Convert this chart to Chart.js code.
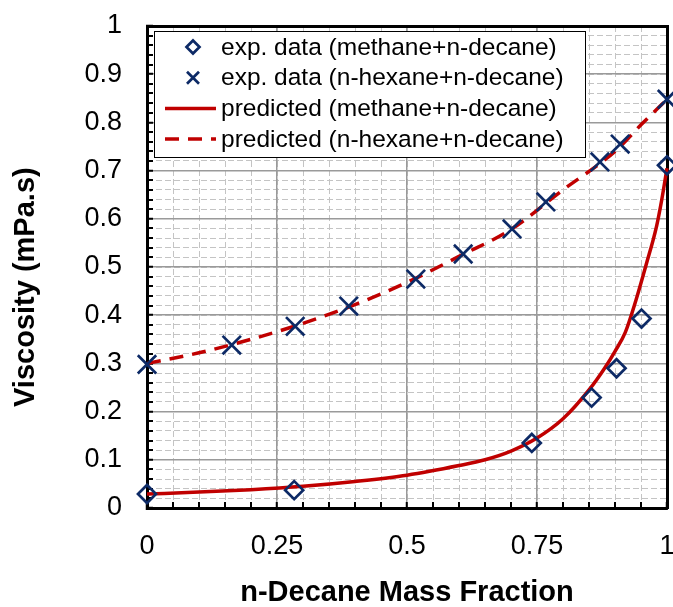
<html>
<head>
  <script src="https://cdn.jsdelivr.net/npm/chart.js@4.4.0/dist/chart.umd.min.js"></script>
</head>

<body style="padding: 0; margin: 0; background: #fff;">

<div style="width: 673px; height: 607px;">
  <canvas id="chart"></canvas>
</div>

<script>
  const seriesLabels = [
    'exp. data (methane+n-decane)',
    'exp. data (n-hexane+n-decane)',
    'predicted (methane+n-decane)',
    'predicted (n-hexane+n-decane)',
  ]

  // experimental points
  const methaneExpX = [0, 0.283, 0.74, 0.855, 0.903, 0.951, 1.0]
  const methaneExpY = [0.029, 0.037, 0.135, 0.229, 0.29, 0.393, 0.711]
  const hexaneExpX = [0, 0.163, 0.285, 0.388, 0.517, 0.608, 0.702, 0.767, 0.871, 0.91, 1.0]
  const hexaneExpY = [0.298, 0.338, 0.377, 0.419, 0.475, 0.527, 0.579, 0.635, 0.718, 0.755, 0.848]

  // predicted curves
  const methanePredX = [0, 0.1, 0.2, 0.3, 0.4, 0.5, 0.6, 0.65, 0.7, 0.75, 0.8, 0.85, 0.88, 0.9, 0.92, 0.94, 0.96, 0.98, 0.99, 1.0]
  const methanePredY = [0.029, 0.033, 0.038, 0.045, 0.055, 0.068, 0.088, 0.1, 0.118, 0.145, 0.185, 0.245, 0.29, 0.325, 0.365, 0.43, 0.505, 0.585, 0.64, 0.705]
  const hexanePredX = [0, 0.1, 0.2, 0.3, 0.4, 0.5, 0.6, 0.7, 0.8, 0.9, 0.95, 1.0]
  const hexanePredY = [0.3, 0.322, 0.35, 0.383, 0.422, 0.468, 0.522, 0.578, 0.66, 0.74, 0.795, 0.848]

  const xTickLabels = ['0', '0.25', '0.5', '0.75', '1']
  const yTickLabels = ['0', '0.1', '0.2', '0.3', '0.4', '0.5', '0.6', '0.7', '0.8', '0.9', '1']

  const navy = '#0d2a66'
  const red = '#c00000'

  const pts = (xs, ys) => xs.map((x, i) => ({x, y: ys[i]}))
  const isMajor = (v, step) => Math.abs(v / step - Math.round(v / step)) < 1e-6
  const noSize = s => { s.width = s.isHorizontal() ? s.width : 0; s.height = s.isHorizontal() ? 0 : s.height; s.paddingLeft = s.paddingRight = s.paddingTop = s.paddingBottom = 0 }

  // legend drawn as an Excel style box inside the plot area
  const legendBox = {
    id: 'legendBox',
    afterDatasetsDraw(chart) {
      const {ctx, chartArea} = chart
      const left = chartArea.left + 7, top = chartArea.top + 5, w = 431, h = 126
      ctx.save()
      ctx.fillStyle = '#fff'
      ctx.fillRect(left, top, w, h)
      ctx.strokeStyle = '#000'
      ctx.lineWidth = 1
      ctx.strokeRect(left + 0.5, top + 0.5, w, h)
      chart.data.datasets.forEach((ds, i) => {
        const y = top + 16 + i * 30.7
        const cx = left + 39
        ctx.setLineDash([])
        ctx.strokeStyle = ds.borderColor
        ctx.lineWidth = ds.borderWidth
        ctx.beginPath()
        if (ds.showLine) {
          ctx.setLineDash(ds.borderDash || [])
          ctx.moveTo(left + 11, y)
          ctx.lineTo(left + 62, y)
        } else if (ds.pointStyle === 'rectRot') {
          const r = 6.5
          ctx.moveTo(cx - r, y); ctx.lineTo(cx, y - r); ctx.lineTo(cx + r, y); ctx.lineTo(cx, y + r); ctx.closePath()
        } else {
          const r = 6
          ctx.moveTo(cx - r, y - r); ctx.lineTo(cx + r, y + r)
          ctx.moveTo(cx + r, y - r); ctx.lineTo(cx - r, y + r)
        }
        ctx.stroke()
        ctx.setLineDash([])
        ctx.fillStyle = '#000'
        ctx.font = '24.5px Arial, "Liberation Sans"'
        ctx.textBaseline = 'middle'
        ctx.fillText(ds.label, left + 67, y + 1)
      })
      ctx.restore()
    }
  }

  const tickFont = {family: 'Arial, "Liberation Sans"', size: 27}
  const titleFont = {family: 'Arial, "Liberation Sans"', size: 29, weight: 'bold', lineHeight: 1}

  new Chart(document.getElementById('chart').getContext('2d'), {
    type: 'scatter',
    data: {
      datasets: [
        {label: seriesLabels[0], data: pts(methaneExpX, methaneExpY), pointStyle: 'rectRot', pointRadius: 9, pointHoverRadius: 9,
          borderColor: navy, backgroundColor: 'rgba(0,0,0,0)', borderWidth: 2.7, pointBorderWidth: 2.7, clip: false},
        {label: seriesLabels[1], data: pts(hexaneExpX, hexaneExpY), pointStyle: 'crossRot', pointRadius: 13, pointHoverRadius: 13,
          borderColor: navy, backgroundColor: navy, borderWidth: 2.7, pointBorderWidth: 2.7, clip: false},
        {label: seriesLabels[2], data: pts(methanePredX, methanePredY), showLine: true, pointRadius: 0,
          borderColor: red, borderWidth: 3.5, cubicInterpolationMode: 'monotone', clip: false},
        {label: seriesLabels[3], data: pts(hexanePredX, hexanePredY), showLine: true, pointRadius: 0,
          borderColor: red, borderWidth: 3.5, borderDash: [14, 9], cubicInterpolationMode: 'monotone', clip: false},
      ]
    },
    options: {
      responsive: true,
      maintainAspectRatio: false,
      animation: false,
      layout: {autoPadding: false, padding: {left: 0, top: 26, right: 6, bottom: 0}},
      plugins: {legend: {display: false}, tooltip: {enabled: false}},
      scales: {
        xMinor: {
          type: 'linear', position: 'bottom', min: 0, max: 1, afterFit: noSize,
          ticks: {display: false, stepSize: 0.05, autoSkip: false, maxTicksLimit: 100},
          grid: {color: '#c4c4c4', lineWidth: 1, drawTicks: false},
          border: {display: false, dash: [6, 3]},
        },
        yMinor: {
          type: 'linear', position: 'left', min: 0, max: 1, afterFit: noSize,
          ticks: {display: false, stepSize: 0.02, autoSkip: false, maxTicksLimit: 100},
          grid: {color: '#c4c4c4', lineWidth: 1, drawTicks: false},
          border: {display: false, dash: [6, 3]},
        },
        x: {
          type: 'linear', position: 'bottom', min: 0, max: 1,
          afterFit: s => { s.height = 99; s.paddingLeft = 0; s.paddingRight = 0 },
          ticks: {
            stepSize: 0.05, autoSkip: false, maxTicksLimit: 100, maxRotation: 0, padding: 28,
            font: tickFont, color: '#000',
            callback: v => isMajor(v, 0.25) ? xTickLabels[Math.round(v / 0.25)] : '',
          },
          grid: {
            color: c => isMajor(c.tick.value, 0.25) ? '#9a9a9a' : 'rgba(0,0,0,0)',
            lineWidth: c => isMajor(c.tick.value, 0.25) ? 1.5 : 0,
            tickColor: '#000', tickLength: -6, tickWidth: 2,
          },
          border: {color: '#000', width: 3},
          title: {display: true, text: 'n-Decane Mass Fraction', font: titleFont, color: '#000', padding: {top: 0, bottom: 0}},
        },
        y: {
          type: 'linear', position: 'left', min: 0, max: 1,
          afterFit: s => { s.width = 147; s.paddingTop = 0; s.paddingBottom = 0 },
          ticks: {
            stepSize: 0.02, autoSkip: false, maxTicksLimit: 100, padding: 31,
            font: tickFont, color: '#000',
            callback: v => isMajor(v, 0.1) ? yTickLabels[Math.round(v / 0.1)] : '',
          },
          grid: {
            color: c => isMajor(c.tick.value, 0.1) ? '#9a9a9a' : 'rgba(0,0,0,0)',
            lineWidth: c => isMajor(c.tick.value, 0.1) ? 1.5 : 0,
            tickColor: '#000', tickLength: -6, tickWidth: 2,
          },
          border: {color: '#000', width: 3},
          title: {display: true, text: 'Viscosity (mPa.s)     ', font: titleFont, color: '#000', padding: {top: 11, bottom: 0}},
        },
        xTop: {
          type: 'linear', position: 'top', min: 0, max: 1, afterFit: noSize,
          ticks: {display: false},
          grid: {drawOnChartArea: false, drawTicks: false},
          border: {color: '#000', width: 3},
        },
        yRight: {
          type: 'linear', position: 'right', min: 0, max: 1, afterFit: noSize,
          ticks: {display: false},
          grid: {drawOnChartArea: false, drawTicks: false},
          border: {color: '#000', width: 3},
        },
      }
    },
    plugins: [legendBox]
  })
</script>
</body>
</html>
